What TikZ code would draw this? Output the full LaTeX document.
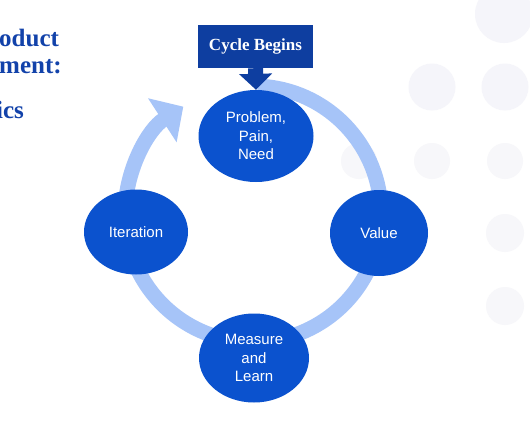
\documentclass[tikz,border=0pt]{standalone}
\usepackage{fontspec}
\setmainfont{Liberation Sans}
\newfontfamily\headfont{Liberation Serif}
\usetikzlibrary{shapes.geometric,arrows.meta}

\definecolor{stageblue}{RGB}{11,82,206}
\definecolor{ringblue}{RGB}{166,196,248}
\definecolor{boxblue}{RGB}{14,62,160}
\definecolor{titleblue}{RGB}{18,66,170}
\definecolor{dotgrey}{RGB}{245,245,250}
\definecolor{dotpale}{RGB}{247,247,250}

\tikzset{
    stage/.style={ellipse, fill=stageblue, text=white, inner sep=0pt, align=center,
        font=\fontsize{15}{18.5}\selectfont},
    bgdot/.style={fill=dotgrey, draw=none},
    titletext/.style={anchor=base west, inner sep=0pt, text=titleblue,
        font=\headfont\bfseries\fontsize{25}{27}\selectfont}
}

\begin{document}
\begin{tikzpicture}[x=1pt,y=-1pt]
    \useasboundingbox[fill=white] (0,0) rectangle (530,442);

    % background dots
    \fill[bgdot] (504,14) circle (29);
    \fill[bgdot] (432,87) circle (23.5); \fill[bgdot] (505,87) circle (23.5);
    \fill[bgdot, fill=dotpale] (359,161) circle (18); \fill[bgdot, fill=dotpale] (432,161) circle (18); \fill[bgdot, fill=dotpale] (505,161) circle (18);
    \fill[bgdot, fill=dotpale] (505,233) circle (19);
    \fill[bgdot, fill=dotpale] (505,306) circle (19);

    % title, cut at the left edge
    \node[titletext] (t1) at (-1,46) {oduct};
    \node[titletext] (t2) at (-1,73) {ment:};
    \node[titletext] (t3) at (-4,118) {ics};

    % the cycle
    \draw[ringblue, line width=15pt, -{Triangle[width=51pt,length=25pt]}]
        (253,214) ++(-88:128) arc[start angle=-88, end angle=237, radius=128];

    \node[stage, minimum width=115, minimum height=92] (prob) at (256,136) {Problem,\\Pain,\\Need};
    \node[stage, minimum width=98, minimum height=86] (val) at (379,233) {Value};
    \node[stage, minimum width=110, minimum height=89] (meas) at (254,358) {Measure\\and\\Learn};
    \node[stage, minimum width=104, minimum height=85] (iter) at (136,232) {Iteration};

    % start marker
    \node[fill=boxblue, text=white, minimum width=115, minimum height=43, inner sep=0pt,
        font=\headfont\bfseries\fontsize{17}{20}\selectfont] (cb) at (255.5,46.5) {Cycle Begins};
    \draw[boxblue, line width=15pt, -{Triangle[width=32pt,length=16pt]}] (cb.south) -- (prob.north);
\end{tikzpicture}
\end{document}
